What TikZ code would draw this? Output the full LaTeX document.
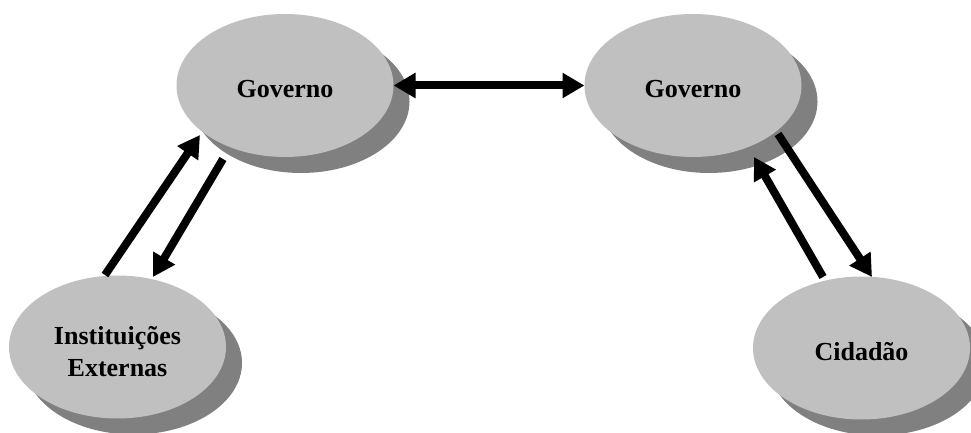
\documentclass[tikz,border=0pt]{standalone}
\usepackage{fontspec}
\setmainfont{Liberation Serif}
\usetikzlibrary{arrows.meta,shapes.geometric,shadows,calc}
\definecolor{discgray}{HTML}{C0C0C0}
\definecolor{shadegray}{HTML}{808080}
\begin{document}
\begin{tikzpicture}[x=1pt,y=1pt,
  actor/.style={ellipse, fill=discgray, draw=none, inner sep=0pt, outer sep=0pt,
    minimum width=217pt, minimum height=143pt, align=center, text height=25pt,
    font=\fontsize{26}{32}\selectfont\bfseries,
    general shadow={fill=shadegray, shadow xshift=16pt, shadow yshift=-16pt}},
  flow/.style={line width=8pt, -{Triangle[length=22pt,width=24pt]}},
  both/.style={line width=8pt, {Triangle[length=22pt,width=24pt]}-{Triangle[length=22pt,width=24pt]}}]
  \useasboundingbox (0,0) rectangle (971,433);
  \clip (0,0) rectangle (971,433);

  % participants
  \node[actor] (govA) at (285,347.5) {Governo};
  \node[actor] (govB) at (693,347.5) {Governo};
  \node[actor, text height=60pt] (ext) at (117.5,86) {Instituições\\Externas};
  \node[actor] (cid)  at (861.5,85) {Cidadão};

  % government to government
  \draw[both] (govA.east) -- (govB.west);

  % external institutions <-> government
  \draw[flow] ($(ext)+(-12.5,72)$) -- ($(govA)+(-85,-49.5)$);
  \draw[flow] ($(govA)+(-62,-73.5)$) -- ($(ext)+(35.5,70)$);

  % government <-> citizen
  \draw[flow] ($(govB)+(85,-48.5)$) -- ($(cid)+(10.5,71)$);
  \draw[flow] ($(cid)+(-38.5,71)$) -- ($(govB)+(61,-71.5)$);
\end{tikzpicture}
\end{document}
